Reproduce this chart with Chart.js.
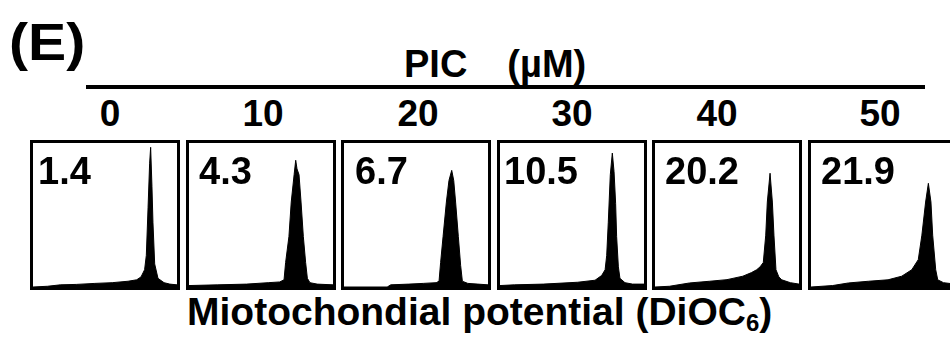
<!DOCTYPE html>
<html>
<head>
  <title>PIC DiOC6</title>
  <script src="https://cdn.jsdelivr.net/npm/chart.js"></script>
  <style>
    body {
      margin: 0;
      width: 950px;
      height: 338px;
      overflow: hidden;
      position: relative;
      background: #fff;
      color: #000;
      font-family: "Liberation Sans", Arial, sans-serif;
      font-weight: bold;
    }
    .txt { position: absolute; line-height: 1; white-space: nowrap; }
    #letter { left: 9px; top: 16px; font-size: 52px; transform: scaleX(1.1); transform-origin: left top; }
    #pic { left: 404px; top: 45px; font-size: 38px; }
    #pic span { margin-left: 40px; }
    #rule { position: absolute; left: 86px; top: 85px; width: 839px; height: 4px; background: #000; }
    .dose { position: absolute; top: 95px; width: 80px; margin-left: -40px; text-align: center; font-size: 37px; line-height: 1; }
    .panel { position: absolute; top: 140px; width: 144px; height: 144px; border: 3px solid #000; }
    .panel canvas { position: absolute; left: 0; top: 0; }
    .pct { position: absolute; top: 9px; font-size: 38px; line-height: 1; }
    #xlabel { left: 187px; top: 292px; font-size: 39px; }
    sub { font-size: 24px; vertical-align: -6px; line-height: 0; }
  </style>
</head>
<body>
  <div class="txt" id="letter">(E)</div>
  <div class="txt" id="pic">PIC<span>(&micro;M)</span></div>
  <div id="rule"></div>
  <div class="txt" id="xlabel">Miotochondial potential (DiOC<sub>6</sub>)</div>

  <script>
    // PIC doses and the % of cells with low potential printed in each panel
    var doses = ["0", "10", "20", "30", "40", "50"];
    var lowPotential = ["1.4", "4.3", "6.7", "10.5", "20.2", "21.9"];

    // DiOC6 histograms, [channel %, count %]
    var hist0 = [[0,0],[10,0.5],[19,1.5],[30,1.8],[43,2.5],[55,3],[66,4],[72,5],[75,7],[77.5,12],[78.7,22],[79.9,55],[81,86],[81.7,97],[82.6,70],[83.3,45],[84.5,16],[86.8,6],[91,3],[95,2],[100,1.5]];
    var hist10 = [[0,1],[20,1.5],[40,2],[55,3],[63,3.5],[66,5],[67.1,17],[69.4,35],[71,59],[73,78],[74.1,88],[75,82],[76.4,78],[77.8,59],[79.4,35],[81,17],[82.2,6],[84,3],[89,2],[100,1.5]];
    var hist20 = [[0,0],[30,0],[32.5,1.5],[45,2],[55,2.5],[64,3],[66,4],[67.1,17],[68.8,35],[71.1,59],[72.9,74],[74.8,81],[76.2,74],[77.5,59],[79.4,35],[81,15],[82.2,4],[86,2.5],[93,2],[100,1.5]];
    var hist30 = [[0,1],[10,1.5],[30,2],[54,3.3],[66,4.7],[70.6,8],[73,12],[74.1,22],[75.2,45],[76.6,78],[78,93],[79.2,80],[80.3,58],[81,35],[82.2,14],[83.3,6],[86.8,3],[92,2],[100,2]];
    var hist40 = [[0,0],[10,0.5],[24,2.8],[38,4],[50,5.1],[61,7.5],[67,10],[70.6,12],[73,14],[75.2,17],[76.9,36],[78,59],[79.9,79],[81.5,59],[82.6,36],[84,12],[86,7],[88,5],[94,3],[100,2]];
    var hist50 = [[0,0],[15,1],[26,2.8],[40,4],[53.5,5],[63,7.5],[70,12],[74.5,19],[77,36],[79.6,59],[81.5,72],[83.3,59],[84.5,36],[86.6,12],[88,5],[92,3],[100,2]];

    var histograms = [hist0, hist10, hist20, hist30, hist40, hist50];

    // layout
    var panelStep = 155.6;
    var firstPanel = 30;
    var doseCenters = [110, 263, 418, 572, 717, 880];
    var pctLeft = [5, 10, 11, 4, 10, 10];

    for (var i = 0; i < doses.length; i++) {
      var lab = document.createElement("div");
      lab.className = "dose";
      lab.style.left = doseCenters[i] + "px";
      lab.textContent = doses[i];
      document.body.appendChild(lab);

      var panel = document.createElement("div");
      panel.className = "panel";
      panel.style.left = Math.round(firstPanel + i * panelStep) + "px";
      var canvas = document.createElement("canvas");
      canvas.width = 144;
      canvas.height = 144;
      panel.appendChild(canvas);
      var pct = document.createElement("div");
      pct.className = "pct";
      pct.style.left = pctLeft[i] + "px";
      pct.textContent = lowPotential[i];
      panel.appendChild(pct);
      document.body.appendChild(panel);

      new Chart(canvas.getContext("2d"), {
        type: "line",
        data: {
          datasets: [{
            data: histograms[i].map(function (p) { return { x: p[0], y: p[1] }; }),
            fill: "origin",
            backgroundColor: "#000",
            borderColor: "#000",
            borderWidth: 1,
            pointRadius: 0,
            tension: 0
          }]
        },
        options: {
          responsive: false,
          animation: false,
          events: [],
          layout: { padding: 0 },
          plugins: { legend: { display: false }, tooltip: { enabled: false } },
          scales: {
            x: { type: "linear", min: 0, max: 100, display: false },
            y: { min: 0, max: 100, display: false }
          }
        }
      });
    }
  </script>
</body>
</html>
